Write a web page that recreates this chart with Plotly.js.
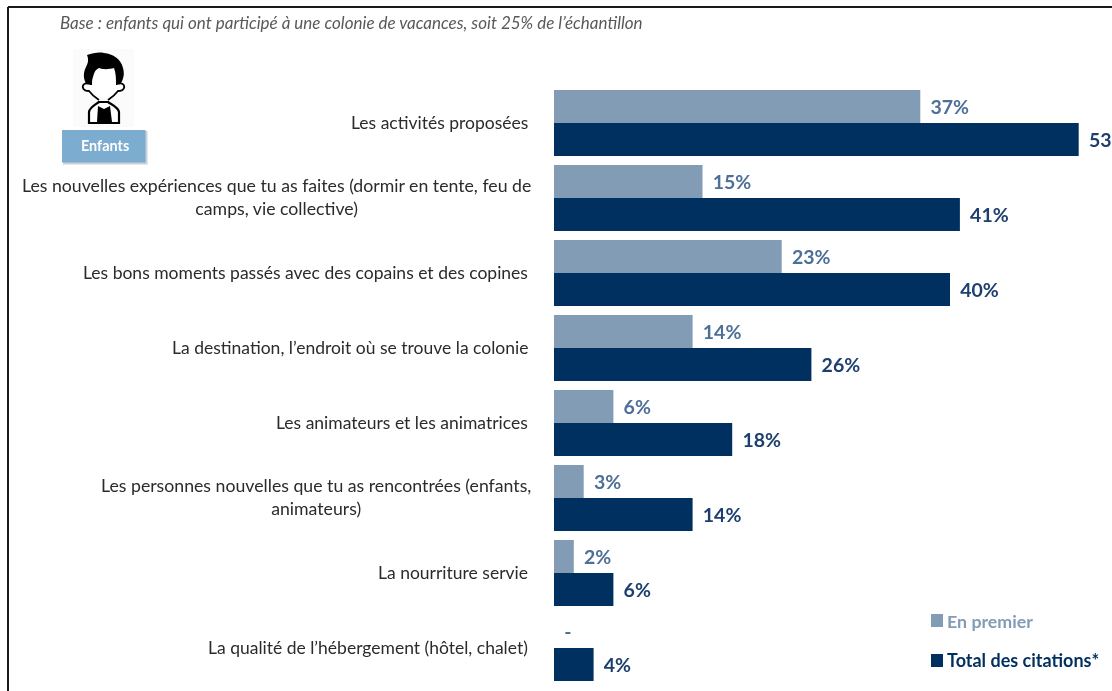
<!DOCTYPE html>
<html><head><meta charset="utf-8">
<script src="https://cdn.plot.ly/plotly-3.0.1.min.js"></script>
<style>html,body{margin:0;padding:0;background:#fff;overflow:hidden}#chart{filter:blur(0.45px)}</style>
</head><body><div id="chart" style="width:1112px;height:691px"></div>
<script>
const categories = [
 "Les activités proposées",
 "Les nouvelles expériences que tu as faites (dormir en tente, feu de<br>camps, vie collective)",
 "Les bons moments passés avec des copains et des copines",
 "La destination, l’endroit où se trouve la colonie",
 "Les animateurs et les animatrices",
 "Les personnes nouvelles que tu as rencontrées (enfants,<br>animateurs)",
 "La nourriture servie",
 "La qualité de l’hébergement (hôtel, chalet)"
];
const enPremier = [37,15,23,14,6,3,2,0];
const enPremierLabels = ["37%","15%","23%","14%","6%","3%","2%","-"];
const totalCitations = [53,41,40,26,18,14,6,4];
const totalLabels = ["53%","41%","40%","26%","18%","14%","6%","4%"];
const seriesNames = ["En premier","Total des citations*"];
const seriesColors = ["#839cb6","#00305f"];
const labelColors = ["#4d6f98","#1d3f6f"];
const baseNote = "Base : enfants qui ont participé à une colonie de vacances, soit 25% de l’échantillon";
const W=1112,H=691, FONT="Lato, 'Open Sans', sans-serif";
const px=x=>x/W, py=y=>1-y/H;

const icon = `<svg xmlns="http://www.w3.org/2000/svg" width="61" height="78" viewBox="0 0 61 78">
<rect width="61" height="78" fill="#fbfbfb"/>
<path d="M14 6 C20 4 26 3 31 4 C40 5 48 10 50 19 C52 26 50 31 47 36 L14 36 C10 30 10 24 13 18 C15 14 16 11 14 6 Z" fill="#000"/>
<path d="M20 28 C21 23 23 20 26 19 C31 21 37 20 41 19 C43 24 43 30 43 36 C42 43 37 48 31 48 C25 48 20 43 19 36 C19 33 19 30 20 28 Z" fill="#fff"/>
<path d="M16 35 C12 33 9 36 10 39 C11 42 14 42 16 42 C19 46 23 49 26 51 M45 35 C49 33 52 36 51 39 C50 42 47 42 45 42 C42 46 38 49 35 51" fill="#fff" stroke="#000" stroke-width="1.8"/>
<path d="M16 74 L16 63 C17 58 22 56 26 53 L35 53 C39 56 45 58 46 63 L46 74 Z" fill="#fff" stroke="#000" stroke-width="2.2"/>
<path d="M24 73 L25 57 L31 60 L37 57 L39 73 Z" fill="#000"/>
</svg>`;

const traces = [
 {type:"bar",orientation:"h",name:seriesNames[0],y:categories,x:enPremier,text:enPremierLabels,
  marker:{color:seriesColors[0]},textfont:{color:labelColors[0],size:19.5,family:FONT,weight:700},showlegend:false},
 {type:"bar",orientation:"h",name:seriesNames[1],y:categories,x:totalCitations,text:totalLabels,
  marker:{color:seriesColors[1]},textfont:{color:labelColors[1],size:19.5,family:FONT,weight:700},showlegend:false}
];
traces.forEach(t=>{t.textposition="outside";t.cliponaxis=false;t.hoverinfo="x+y";
  t.texttemplate="\u00a0\u2009%{text}";t.textangle=0;t.constraintext="none";});

const annotations = categories.map(c=>({xref:"paper",yref:"y",x:px(c.includes("<br>")?532:528.5),y:c,yshift:1,text:c,
  xanchor:"right",yanchor:"middle",align:"center",showarrow:false,borderpad:0,
  font:{family:FONT,size:c.includes("<br>")?17.7:17.5,color:"#2b2b2b"}}));
annotations.push(
 {xref:"paper",yref:"paper",x:px(59),y:py(22.5),text:"<i>"+baseNote+"</i>",xanchor:"left",yanchor:"middle",showarrow:false,borderpad:0,
  font:{family:FONT,size:17,color:"#595959"}},
 {xref:"paper",yref:"paper",x:px(104.5),y:py(145),text:"<b>Enfants</b>",xanchor:"center",yanchor:"middle",showarrow:false,borderpad:0,
  font:{family:FONT,size:14.4,color:"#ffffff"}},
 {xref:"paper",yref:"paper",x:px(946),y:py(621),text:"<b>"+seriesNames[0]+"</b>",xanchor:"left",yanchor:"middle",showarrow:false,borderpad:0,
  font:{family:FONT,size:17.8,color:seriesColors[0]}},
 {xref:"paper",yref:"paper",x:px(946),y:py(660),text:"<b>"+seriesNames[1]+"</b>",xanchor:"left",yanchor:"middle",showarrow:false,borderpad:0,
  font:{family:FONT,size:18,color:seriesColors[1]}}
);
const rect=(x0,y0,x1,y1,color)=>({type:"rect",xref:"paper",yref:"paper",x0:px(x0),x1:px(x1),y0:py(y0),y1:py(y1),fillcolor:color,line:{width:0},layer:"below"});
const line=(x0,y0,x1,y1)=>({type:"line",xref:"paper",yref:"paper",x0:px(x0),x1:px(x1),y0:py(y0),y1:py(y1),line:{color:"#1a1a1a",width:2}});
const shapes=[
 line(8,7,W,7), line(8,7,8,H),
 rect(63,131,148,165,"#e4e8ec"),
 rect(63,131,147,164,"#c9d0d8"),
 rect(62,130,145.5,162.5,"#7caccf"),
 rect(931,614,943,627,seriesColors[0]),
 rect(931,654,943,667,seriesColors[1])
];
Plotly.newPlot("chart",traces,{
 width:W,height:H,margin:{l:0,r:0,t:0,b:0,pad:0},paper_bgcolor:"#fff",plot_bgcolor:"#fff",
 barmode:"group",bargap:0.12,bargroupgap:0,showlegend:false,
 xaxis:{domain:[554/W,1],range:[0,558/9.9],visible:false,fixedrange:true},
 yaxis:{domain:[py(685.5),py(85.5)],type:"category",autorange:false,range:[7.5,-0.5],showticklabels:false,showgrid:false,zeroline:false,showline:false,ticks:"",fixedrange:true},
 annotations,shapes,
 images:[{source:"data:image/svg+xml;utf8,"+encodeURIComponent(icon),xref:"paper",yref:"paper",x:px(73),y:py(49),sizex:61/W,sizey:78/H,xanchor:"left",yanchor:"top",sizing:"stretch",layer:"below"}],
 font:{family:FONT}
},{staticPlot:true,displayModeBar:false});
</script></body></html>
